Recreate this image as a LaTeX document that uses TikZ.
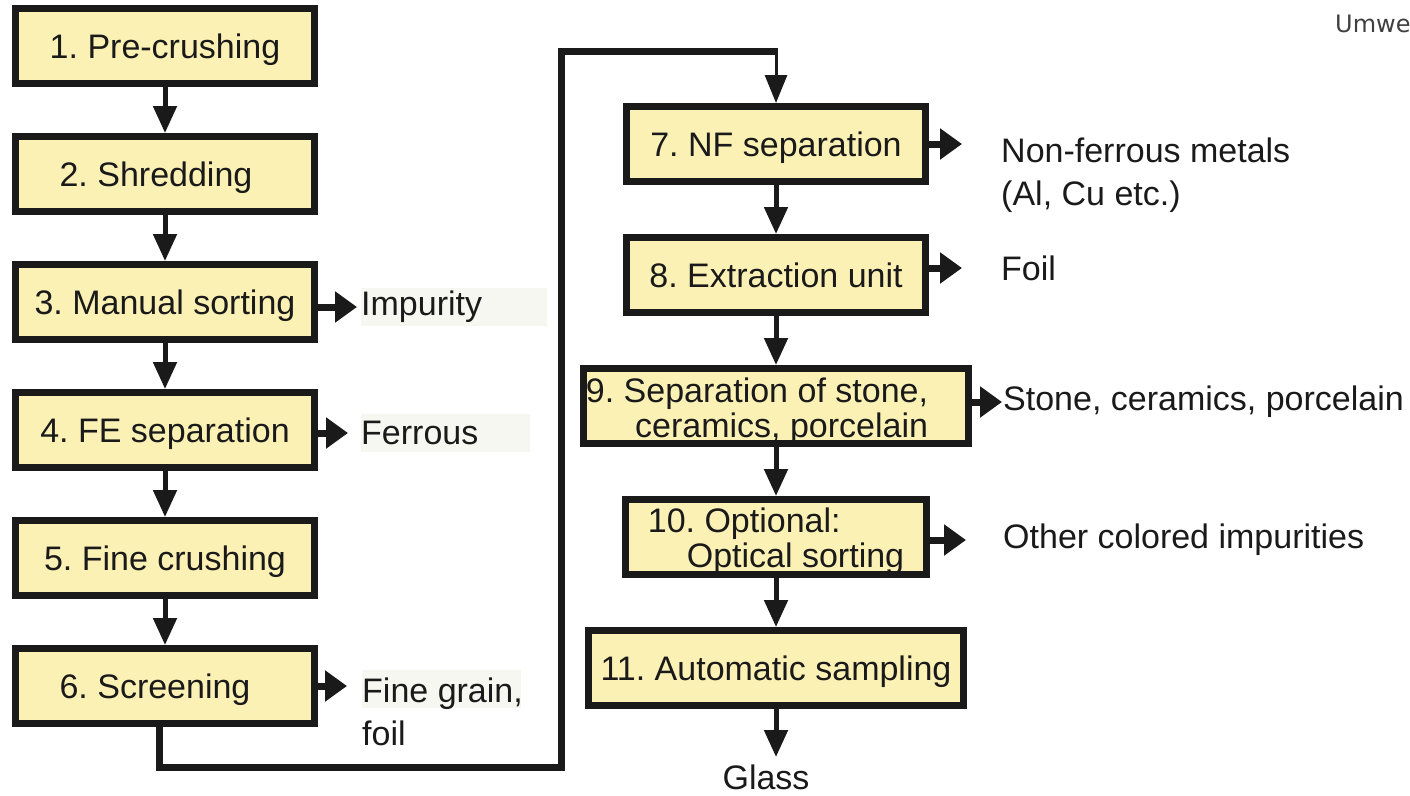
\documentclass[tikz,border=0pt]{standalone}
\usepackage{fontspec}
\setmainfont{Liberation Sans}
\newfontfamily\notefont{DejaVu Sans}
\usetikzlibrary{positioning, arrows.meta}

\definecolor{boxfill}{RGB}{251,241,181}
\definecolor{ink}{RGB}{26,26,26}
\definecolor{tagbg}{RGB}{247,247,242}

\frenchspacing

\begin{document}
\begin{tikzpicture}[
		x=1pt, y=-1pt,
		node distance=46pt,
		font=\fontsize{34}{35}\selectfont,
		stage/.style={rectangle, draw=ink, line width=7pt, fill=boxfill, text=ink, minimum width=299pt, minimum height=75pt, inner sep=2pt, text height=24.3pt, text depth=0pt},
		outtext/.style={text=ink, inner sep=0pt, align=left, font=\fontsize{34}{43}\selectfont},
		outtag/.style={outtext, fill=tagbg, minimum height=38pt, text width=#1},
		arrow/.style={ink, line width=5pt, -{Triangle[length=27pt, width=23pt]}},
		sidearrow/.style={ink, line width=7pt, -{Triangle[length=22pt, width=30pt]}},
		loopline/.style={ink, line width=7pt},
		feedarrow/.style={ink, line width=3pt, -{Triangle[length=28pt, width=22pt]}}
		]
		
		\path[use as bounding box, fill=white] (0,0) rectangle (1410,795);
		
		% Left column
		\node (n1) [stage] at (165,46) {1. Pre-crushing};
		\node (n2) [stage, below=of n1] {2. Shredding\hspace*{18pt}};
		\node (n3) [stage, below=of n2] {3. Manual sorting};
		\node (n4) [stage, below=of n3] {4. FE separation};
		\node (n5) [stage, below=of n4] {5. Fine crushing};
		\node (n6) [stage, below=of n5] {6. Screening\hspace*{20pt}};
		
		% Right column
		\node (n7) [stage] at (776,144) {7. NF separation};
		\node (n8) [stage, below=49pt of n7] {8. Extraction unit};
		\node (n9) [stage, below=49pt of n8, minimum width=377pt] {\raisebox{-1pt}{\begin{tabular}{@{}r@{}}9. Separation of stone,\hspace*{38pt}\\ceramics, porcelain\hspace*{38pt}\end{tabular}}};
		\node (n10) [stage, below=49pt of n9, minimum width=301pt] {\begin{tabular}{@{}l@{}}10. Optional:\\\hspace*{39pt}Optical sorting\end{tabular}};
		\node (n11) [stage, below=49pt of n10, minimum width=375pt] {11. Automatic sampling};
		
		% Outputs
		\node (out3) [outtag=186pt, anchor=west] at (361,307) {Impurity};
		\node (out4) [outtag=169pt, anchor=west] at (361,433) {Ferrous};
		\fill [tagbg] (362,670) rectangle (521,708);
		\node (out6) [outtext, anchor=north west] at (362,678) {Fine grain,\\foil};
		\node (out7) [outtext, anchor=north west] at (1001,138) {Non-ferrous metals\\(Al, Cu etc.)};
		\node (out8) [outtext, anchor=west] at (1001,268) {Foil};
		\node (out9) [outtext, anchor=west] at (1003,402) {Stone, ceramics, porcelain};
		\node (out10) [outtext, anchor=west] at (1003,540) {Other colored impurities};
		\node (glass) [outtext, anchor=north] at (766,765) {Glass};
		\node (note) [anchor=west, inner sep=0pt, text=black!75, font=\notefont\fontsize{24}{28}\selectfont] at (1335,24) {Umwe};
		
		% Arrows
		\draw [arrow] (n1) -- (n2);
		\draw [arrow] (n2) -- (n3);
		\draw [arrow] (n3) -- (n4);
		\draw [arrow] (n4) -- (n5);
		\draw [arrow] (n5) -- (n6);
		\draw [arrow] (n7) -- (n8);
		\draw [arrow] (n8) -- (n9);
		\draw [arrow] (n9) -- (n10);
		\draw [arrow] (n10) -- (n11);
		\draw [arrow, shorten >=8pt] (n11.south) -- (n11.south |- glass.north);
		
		\draw [sidearrow, shorten >=4pt] (n3.east |- out3.west) -- (out3.west);
		\draw [sidearrow, shorten >=13pt] (n4.east |- out4.west) -- (out4.west);
		\draw [sidearrow, shorten >=15pt] (n6.east) -- (n6.east -| out6.west);
		\draw [sidearrow, shorten >=39pt] (n7.east) -- (n7.east -| out7.west);
		\draw [sidearrow, shorten >=39pt] (n8.east |- out8.west) -- (out8.west);
		\draw [sidearrow, shorten >=1pt] (n9.east |- out9.west) -- (out9.west);
		\draw [sidearrow, shorten >=37pt] (n10.east |- out10.west) -- (out10.west);
		
		% Return line from screening to NF separation
		\coordinate (low) at (159,767);
		\coordinate (top) at (561,51);
		\coordinate (drop) at (777.5,51);
		\draw [loopline] (n6.south -| low) -- (low) -| (top) -- (drop);
		\draw [feedarrow] (n7.north |- drop) -- (n7);
		
	\end{tikzpicture}
\end{document}
